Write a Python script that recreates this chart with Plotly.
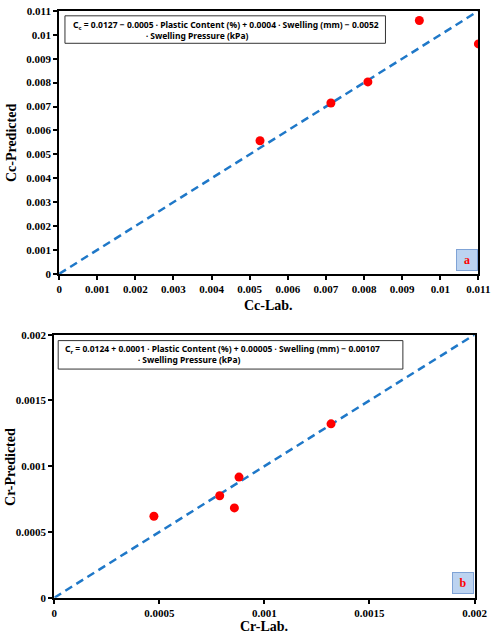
import plotly.graph_objects as go

W, H = 504, 640

# panel a: compression index
cc_lab = [0.00527, 0.00713, 0.0081, 0.00945, 0.011]
cc_pred = [0.00557, 0.00715, 0.00803, 0.0106, 0.00962]
cc_line = [0, 0.011]
cc_ticks = [0, 0.001, 0.002, 0.003, 0.004, 0.005, 0.006, 0.007, 0.008, 0.009, 0.01, 0.011]
cc_ticktext = ["0", "0.001", "0.002", "0.003", "0.004", "0.005", "0.006",
               "0.007", "0.008", "0.009", "0.01", "0.011"]

# panel b: recompression index
cr_lab = [0.000474, 0.000787, 0.000857, 0.000879, 0.001317]
cr_pred = [0.000619, 0.000775, 0.000683, 0.000917, 0.001322]
cr_line = [0, 0.002]
cr_ticks = [0, 0.0005, 0.001, 0.0015, 0.002]
cr_ticktext = ["0", "0.0005", "0.001", "0.0015", "0.002"]

eq_a = ("C<sub>c</sub> = 0.0127 − 0.0005 ∙ Plastic Content (%) + 0.0004 ∙ Swelling (mm) − 0.0052"
        "<br>" + "&nbsp;" * 33 + "∙ Swelling Pressure (kPa)")
eq_b = ("C<sub>r</sub> = 0.0124 + 0.0001 ∙ Plastic Content (%) + 0.00005 ∙ Swelling (mm) − 0.00107"
        "<br>" + "&nbsp;" * 33 + "∙ Swelling Pressure (kPa)")


def px(x):
    return x / W


def py(y):
    return 1 - y / H


serif = "Liberation Serif, DejaVu Serif, serif"
tick_font = dict(family=serif, size=11, color="black", weight="bold")
title_font = dict(family=serif, size=14, color="black", weight="bold")
eq_font = dict(family="Noto Sans", size=8.5, color="black", weight="bold")

fig = go.Figure()

fig.add_trace(go.Scatter(x=cc_line, y=cc_line, mode="lines", xaxis="x", yaxis="y",
                         line=dict(color="#1F78C8", width=2.5, dash="8px,5px")))
fig.add_trace(go.Scatter(x=cc_lab, y=cc_pred, mode="markers", xaxis="x", yaxis="y",
                         marker=dict(color="#FF0000", size=9)))
fig.add_trace(go.Scatter(x=cr_line, y=cr_line, mode="lines", xaxis="x2", yaxis="y2",
                         line=dict(color="#1F78C8", width=2.5, dash="8px,5px")))
fig.add_trace(go.Scatter(x=cr_lab, y=cr_pred, mode="markers", xaxis="x2", yaxis="y2",
                         marker=dict(color="#FF0000", size=9)))

axis_style = dict(showgrid=False, zeroline=False, showline=True, linecolor="black",
                  linewidth=2, mirror=True, ticks="outside", ticklen=4, tickwidth=1.5,
                  tickcolor="black", tickfont=tick_font)

fig.update_layout(
    width=W, height=H,
    margin=dict(l=0, r=0, t=0, b=0),
    paper_bgcolor="white", plot_bgcolor="white",
    showlegend=False,
    xaxis=dict(domain=[px(58), px(491)], range=[0, 0.011], anchor="y",
               tickvals=cc_ticks, ticktext=cc_ticktext, **axis_style),
    yaxis=dict(domain=[py(273), py(5)], range=[0, 0.011], anchor="x",
               tickvals=cc_ticks, ticktext=cc_ticktext, **axis_style),
    xaxis2=dict(domain=[px(53), px(487)], range=[0, 0.002], anchor="y2",
                tickvals=cr_ticks, ticktext=cr_ticktext, **axis_style),
    yaxis2=dict(domain=[py(603), py(335)], range=[0, 0.002], anchor="x2",
                tickvals=cr_ticks, ticktext=cr_ticktext, **axis_style),
)

# equation frames
fig.add_shape(type="rect", xref="paper", yref="paper",
              x0=px(64), x1=px(395), y0=py(38), y1=py(10),
              line=dict(color="#333333", width=1), fillcolor="white", layer="above")
fig.add_shape(type="rect", xref="paper", yref="paper",
              x0=px(57), x1=px(413), y0=py(370), y1=py(341),
              line=dict(color="#333333", width=1), fillcolor="white", layer="above")

annotations = [
    dict(text="Cc-Lab.", x=px(274), y=py(305), font=title_font),
    dict(text="Cc-Predicted", x=px(9), y=py(140), textangle=-90, font=title_font),
    dict(text="Cr-Lab.", x=px(270), y=py(632), font=title_font),
    dict(text="Cr-Predicted", x=px(7), y=py(470), textangle=-90, font=title_font),
    dict(text="a", x=px(479), y=py(259), width=18, height=18,
         font=dict(family=serif, size=12, color="#FF0000", weight="bold"),
         bgcolor="#BCD3F0", bordercolor="#7FA3D6", borderwidth=1),
    dict(text="b", x=px(475), y=py(588), width=18, height=18,
         font=dict(family=serif, size=12, color="#FF0000", weight="bold"),
         bgcolor="#BCD3F0", bordercolor="#7FA3D6", borderwidth=1),
    dict(text=eq_a, x=px(70), y=py(24), xanchor="left", align="left", font=eq_font),
    dict(text=eq_b, x=px(62), y=py(355), xanchor="left", align="left", font=eq_font),
]
for a in annotations:
    a.setdefault("xref", "paper")
    a.setdefault("yref", "paper")
    a.setdefault("xanchor", "center")
    a.setdefault("yanchor", "middle")
    a.setdefault("showarrow", False)
    fig.add_annotation(**a)

fig.write_html("out.html", config={"displayModeBar": False},
               post_script="document.body.style.margin='0';")
